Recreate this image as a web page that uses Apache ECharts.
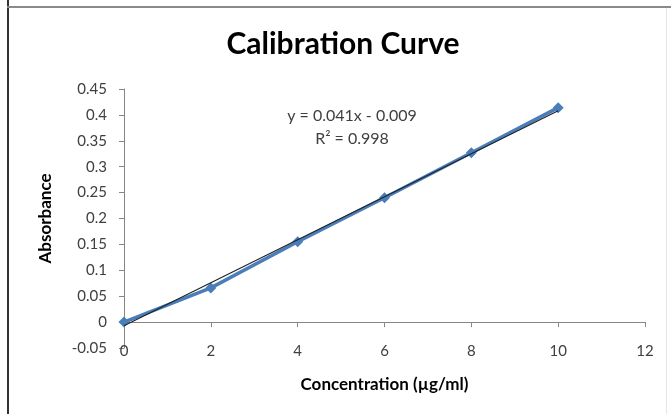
<!DOCTYPE html>
<html>
<head>
<meta charset="utf-8">
<script src="https://cdn.jsdelivr.net/npm/echarts@6/dist/echarts.min.js"></script>
<style>html,body{margin:0;padding:0;background:#fff;}#chart{width:671px;height:414px;}</style>
</head>
<body>
<div id="chart"></div>
<script>
const concentrations = [0, 2, 4, 6, 8, 10];
const absorbance = [0, 0.066, 0.155, 0.240, 0.327, 0.414];
const trendX = [0, 10];
const trendY = [-0.007, 0.408];
const equationText = 'y = 0.041x - 0.009';
const r2Text = 'R² = 0.998';

const FONT = 'Lato';
const chart = echarts.init(document.getElementById('chart'), null, {renderer: 'canvas'});
chart.setOption({
  animation: false,
  backgroundColor: '#fff',
  title: {
    text: 'Calibration Curve',
    left: 338,
    textAlign: 'center',
    top: 24,
    textStyle: {fontFamily: FONT, fontWeight: 'bold', fontSize: 30, color: '#000'}
  },
  grid: {left: 124, right: 26, top: 89, bottom: 66},
  xAxis: [{
    type: 'value', min: 0, max: 12, interval: 2,
    axisLine: {show: true, onZero: true, lineStyle: {color: '#868686', width: 1}},
    axisTick: {show: true, length: 5, lineStyle: {color: '#868686'}},
    axisLabel: {show: false},
    splitLine: {show: false}
  }, {
    type: 'value', min: 0, max: 12, interval: 2, position: 'bottom',
    axisLine: {show: false, onZero: false},
    axisTick: {show: false},
    axisLabel: {show: true, margin: -4, fontFamily: FONT, fontSize: 15, color: '#404040'},
    splitLine: {show: false},
    name: 'Concentration (µg/ml)',
    nameLocation: 'middle',
    nameGap: 28,
    nameTextStyle: {fontFamily: FONT, fontWeight: 'bold', fontSize: 17, color: '#000'}
  }],
  yAxis: {
    type: 'value', min: -0.05, max: 0.45, interval: 0.05,
    axisLine: {show: true, onZero: false, lineStyle: {color: '#868686', width: 1}},
    axisTick: {show: true, length: 5, lineStyle: {color: '#868686'}},
    axisLabel: {margin: 17, fontFamily: FONT, fontSize: 15, color: '#404040',
      formatter: v => String(Number(v.toFixed(2)))},
    splitLine: {show: false},
    name: 'Absorbance',
    nameLocation: 'middle',
    nameRotate: 90,
    nameGap: 70,
    nameTextStyle: {fontFamily: FONT, fontWeight: 'bold', fontSize: 17, color: '#000'}
  },
  series: [{
    type: 'line',
    xAxisIndex: 0,
    data: concentrations.map((x, i) => [x, absorbance[i]]),
    symbol: 'diamond',
    symbolSize: 11,
    showSymbol: true,
    lineStyle: {color: '#4a7ebb', width: 3.5},
    itemStyle: {color: '#4a7ebb'},
    z: 2
  }, {
    type: 'line',
    xAxisIndex: 0,
    data: trendX.map((x, i) => [x, trendY[i]]),
    symbol: 'none',
    lineStyle: {color: '#222', width: 1.2},
    z: 3
  }],
  graphic: [
    {type: 'rect', shape: {x: 7, y: 0, width: 2, height: 414}, style: {fill: '#333'}, silent: true},
    {type: 'rect', shape: {x: 7, y: 6, width: 664, height: 2}, style: {fill: '#8a8a8a'}, silent: true},
    {type: 'rect', shape: {x: 666, y: 8, width: 1, height: 406}, style: {fill: '#e6e6e6'}, silent: true},
    {type: 'text', x: 352, y: 116, style: {text: equationText, fontFamily: FONT, fontSize: 16, fill: '#404040', align: 'center', verticalAlign: 'middle'}},
    {type: 'text', x: 352, y: 139, style: {text: r2Text, fontFamily: FONT, fontSize: 16, fill: '#404040', align: 'center', verticalAlign: 'middle'}}
  ]
});
</script>
</body>
</html>
